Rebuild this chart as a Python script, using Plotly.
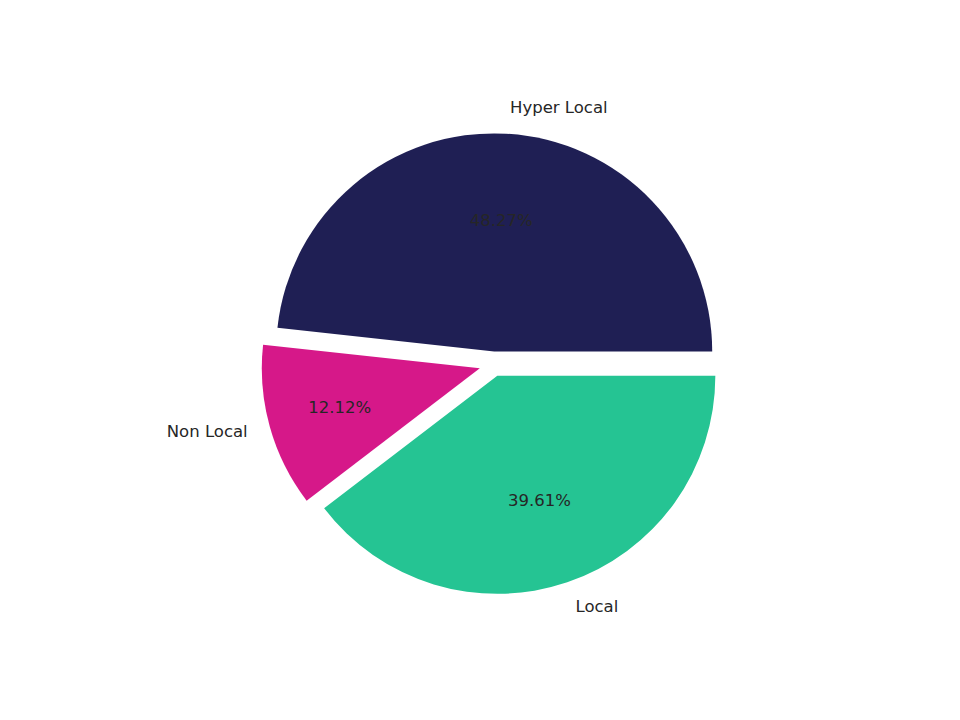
import plotly.graph_objects as go

# share of stores by delivery type (percent)
labels = ["Hyper Local", "Non Local", "Local"]
shares = [48.27, 12.12, 39.61]
colors = ["#1f1f54", "#d61889", "#25c493"]
explode = [0.06, 0.065, 0.055]
# the thin slice gets its percentage pulled in a bit, like matplotlib's 0.6 radius
text_explode = [0.06, 0.0, 0.055]

pie_domain = dict(x=[0.2637, 0.7477], y=[0.1824, 0.8274])
# a slightly larger invisible pie puts the outer labels further out
label_domain = dict(x=[0.2450, 0.7630], y=[0.1596, 0.8501])
text_font = dict(family="DejaVu Sans", size=16.5, color="#262626")
clear = ["rgba(0,0,0,0)"] * len(labels)

# matplotlib draws counter-clockwise from 3 o'clock; plotly gets the same
# picture by walking the slices backwards, clockwise from 3 o'clock
rev = slice(None, None, -1)
common = dict(labels=labels[rev], values=shares[rev], sort=False,
              direction="clockwise", rotation=90, showlegend=False)

fig = go.Figure()

# the coloured slices
fig.add_trace(go.Pie(
    **common, domain=pie_domain, pull=explode[rev],
    marker=dict(colors=colors[rev], line=dict(width=0)),
    textinfo="none",
))

# percentages, kept around 0.6 of the radius by a hole in an invisible copy
fig.add_trace(go.Pie(
    **common, domain=pie_domain, pull=text_explode[rev], hole=0.2,
    marker=dict(colors=clear, line=dict(width=0)),
    texttemplate="%{percent:.2%}", textposition="inside",
    insidetextorientation="horizontal", textfont=text_font,
    hoverinfo="skip",
))

# outer labels
fig.add_trace(go.Pie(
    **common, domain=label_domain, pull=explode[rev],
    marker=dict(colors=clear, line=dict(width=0)),
    textinfo="label", textposition="outside", textfont=text_font,
    hoverinfo="skip",
))

fig.update_layout(
    width=960, height=720,
    margin=dict(l=0, r=0, t=0, b=0),
    paper_bgcolor="white",
    plot_bgcolor="white",
)

fig.write_html("out.html")
